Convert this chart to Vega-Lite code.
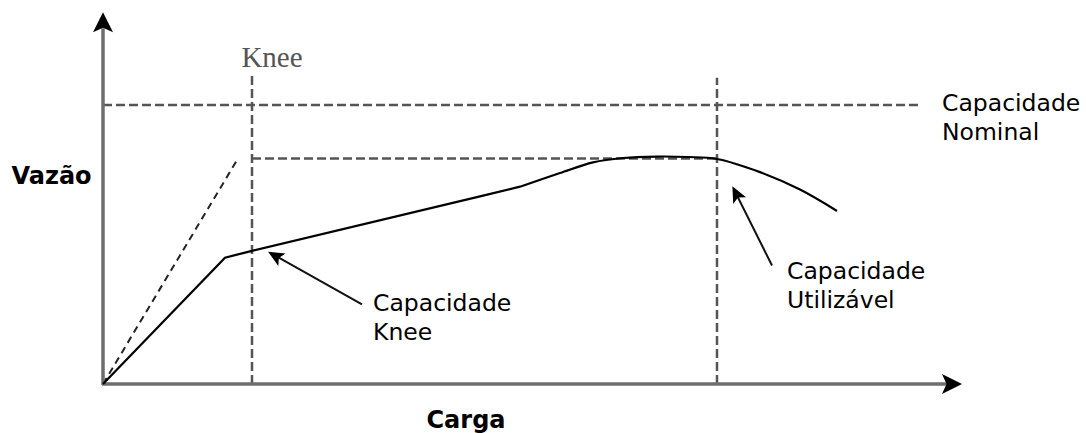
{
  "$schema": "https://vega.github.io/schema/vega-lite/v6.json",
  "width": 1086,
  "height": 433,
  "autosize": {"type": "fit", "contains": "padding"},
  "padding": 0,
  "background": "white",
  "config": {"view": {"stroke": null}},
  "datasets": {
    "curve": [
      {"carga": 0, "vazao": 0, "seg": "linear"},
      {"carga": 122, "vazao": 130, "seg": "linear"},
      {"carga": 149, "vazao": 137, "seg": "linear"},
      {"carga": 377, "vazao": 193, "seg": "linear"},
      {"carga": 417, "vazao": 203, "seg": "linear"},
      {"carga": 417, "vazao": 203, "seg": "smooth"},
      {"carga": 457, "vazao": 217, "seg": "smooth"},
      {"carga": 490, "vazao": 228, "seg": "smooth"},
      {"carga": 520, "vazao": 232.5, "seg": "smooth"},
      {"carga": 554, "vazao": 234, "seg": "smooth"},
      {"carga": 585, "vazao": 233.5, "seg": "smooth"},
      {"carga": 614, "vazao": 231.5, "seg": "smooth"},
      {"carga": 657, "vazao": 218, "seg": "smooth"},
      {"carga": 697, "vazao": 200, "seg": "smooth"},
      {"carga": 734, "vazao": 178, "seg": "smooth"}
    ],
    "lines": [
      {"name": "eixoY", "x": 0, "y": -1, "x2": 0, "y2": 366},
      {"name": "eixoX", "x": -1, "y": 0, "x2": 846, "y2": 0},
      {"name": "nominal", "x": 0, "y": 287, "x2": 819, "y2": 287},
      {"name": "utilizavelH", "x": 149, "y": 232, "x2": 614, "y2": 232},
      {"name": "kneeV", "x": 149, "y": 0, "x2": 149, "y2": 318},
      {"name": "utilizavelV", "x": 614, "y": 0, "x2": 614, "y2": 315},
      {"name": "diag", "x": 0, "y": 0, "x2": 135, "y2": 232},
      {"name": "setaKnee", "x": 259, "y": 82, "x2": 174, "y2": 131},
      {"name": "setaUtil", "x": 669, "y": 122, "x2": 634, "y2": 194}
    ],
    "heads": [
      {"name": "eixoX", "carga": 849, "vazao": 0},
      {"name": "eixoY", "carga": 0, "vazao": 372},
      {"name": "setaKnee", "carga": 172, "vazao": 132},
      {"name": "setaUtil", "carga": 633, "vazao": 196}
    ],
    "texts": [
      {"label": "Capacidade", "carga": 839, "vazao": 288, "kind": "normal"},
      {"label": "Nominal", "carga": 839, "vazao": 258, "kind": "normal"},
      {"label": "Capacidade", "carga": 270, "vazao": 82, "kind": "normal"},
      {"label": "Knee", "carga": 270, "vazao": 52, "kind": "normal"},
      {"label": "Capacidade", "carga": 684, "vazao": 115, "kind": "normal"},
      {"label": "Utilizável", "carga": 684, "vazao": 85, "kind": "normal"},
      {"label": "Vazão", "carga": -51.5, "vazao": 213, "kind": "bold"},
      {"label": "Carga", "carga": 363, "vazao": -38, "kind": "bold"},
      {"label": "Knee", "carga": 169, "vazao": 335, "kind": "serif"}
    ]
  },
  "encoding": {},
  "layer": [
    {
      "data": {"name": "lines"},
      "transform": [{"filter": "datum.name === 'nominal' || datum.name === 'utilizavelH' || datum.name === 'kneeV' || datum.name === 'utilizavelV'"}],
      "mark": {"type": "rule", "color": "#555555", "strokeWidth": 2.5, "strokeDash": [9, 4]},
      "encoding": {
        "x": {"field": "x", "type": "quantitative", "scale": {"domain": [-103, 983], "nice": false, "zero": false}, "axis": null},
        "y": {"field": "y", "type": "quantitative", "scale": {"domain": [-38, 395], "nice": false, "zero": false}, "axis": null},
        "x2": {"field": "x2"},
        "y2": {"field": "y2"}
      }
    },
    {
      "data": {"name": "lines"},
      "transform": [{"filter": "datum.name === 'diag'"}],
      "mark": {"type": "rule", "color": "#222222", "strokeWidth": 2, "strokeDash": [7, 5]},
      "encoding": {
        "x": {"field": "x", "type": "quantitative"},
        "y": {"field": "y", "type": "quantitative"},
        "x2": {"field": "x2"},
        "y2": {"field": "y2"}
      }
    },
    {
      "data": {"name": "lines"},
      "transform": [{"filter": "datum.name === 'eixoX' || datum.name === 'eixoY'"}],
      "mark": {"type": "rule", "color": "#6e6e6e", "strokeWidth": 3.5},
      "encoding": {
        "x": {"field": "x", "type": "quantitative"},
        "y": {"field": "y", "type": "quantitative"},
        "x2": {"field": "x2"},
        "y2": {"field": "y2"}
      }
    },
    {
      "data": {"name": "lines"},
      "transform": [{"filter": "datum.name === 'setaKnee' || datum.name === 'setaUtil'"}],
      "mark": {"type": "rule", "color": "#111111", "strokeWidth": 2},
      "encoding": {
        "x": {"field": "x", "type": "quantitative"},
        "y": {"field": "y", "type": "quantitative"},
        "x2": {"field": "x2"},
        "y2": {"field": "y2"}
      }
    },
    {
      "data": {"name": "curve"},
      "transform": [{"filter": "datum.seg === 'linear'"}],
      "mark": {"type": "line", "color": "#000000", "strokeWidth": 2.2, "interpolate": "linear"},
      "encoding": {
        "x": {"field": "carga", "type": "quantitative"},
        "y": {"field": "vazao", "type": "quantitative"},
        "order": {"field": "carga", "type": "quantitative"}
      }
    },
    {
      "data": {"name": "curve"},
      "transform": [{"filter": "datum.seg === 'smooth'"}],
      "mark": {"type": "line", "color": "#000000", "strokeWidth": 2.2, "interpolate": "catmull-rom"},
      "encoding": {
        "x": {"field": "carga", "type": "quantitative"},
        "y": {"field": "vazao", "type": "quantitative"},
        "order": {"field": "carga", "type": "quantitative"}
      }
    },
    {
      "data": {"name": "heads"},
      "transform": [{"filter": "datum.name === 'eixoX'"}],
      "mark": {"type": "point", "shape": "M1,0L-1,-1L-0.55,0L-1,1Z", "filled": true, "color": "#000000", "opacity": 1, "size": 400, "angle": 0},
      "encoding": {
        "x": {"field": "carga", "type": "quantitative"},
        "y": {"field": "vazao", "type": "quantitative"}
      }
    },
    {
      "data": {"name": "heads"},
      "transform": [{"filter": "datum.name === 'eixoY'"}],
      "mark": {"type": "point", "shape": "M1,0L-1,-1L-0.55,0L-1,1Z", "filled": true, "color": "#000000", "opacity": 1, "size": 400, "angle": 270},
      "encoding": {
        "x": {"field": "carga", "type": "quantitative"},
        "y": {"field": "vazao", "type": "quantitative"}
      }
    },
    {
      "data": {"name": "heads"},
      "transform": [{"filter": "datum.name === 'setaKnee'"}],
      "mark": {"type": "point", "shape": "M1,0L-1,-0.9L-0.55,0L-1,0.9Z", "filled": true, "color": "#000000", "opacity": 1, "size": 256, "angle": 210},
      "encoding": {
        "x": {"field": "carga", "type": "quantitative"},
        "y": {"field": "vazao", "type": "quantitative"}
      }
    },
    {
      "data": {"name": "heads"},
      "transform": [{"filter": "datum.name === 'setaUtil'"}],
      "mark": {"type": "point", "shape": "M1,0L-1,-0.9L-0.55,0L-1,0.9Z", "filled": true, "color": "#000000", "opacity": 1, "size": 256, "angle": 243},
      "encoding": {
        "x": {"field": "carga", "type": "quantitative"},
        "y": {"field": "vazao", "type": "quantitative"}
      }
    },
    {
      "data": {"name": "texts"},
      "transform": [{"filter": "datum.kind === 'normal'"}],
      "mark": {"type": "text", "font": "DejaVu Sans", "fontSize": 23.5, "color": "#000000", "align": "left", "baseline": "middle"},
      "encoding": {
        "x": {"field": "carga", "type": "quantitative"},
        "y": {"field": "vazao", "type": "quantitative"},
        "text": {"field": "label"}
      }
    },
    {
      "data": {"name": "texts"},
      "transform": [{"filter": "datum.kind === 'bold'"}],
      "mark": {"type": "text", "font": "DejaVu Sans", "fontWeight": "bold", "fontSize": 24, "color": "#000000", "align": "center", "baseline": "middle"},
      "encoding": {
        "x": {"field": "carga", "type": "quantitative"},
        "y": {"field": "vazao", "type": "quantitative"},
        "text": {"field": "label"}
      }
    },
    {
      "data": {"name": "texts"},
      "transform": [{"filter": "datum.kind === 'serif'"}],
      "mark": {"type": "text", "font": "Liberation Serif", "fontSize": 29, "color": "#555555", "align": "center", "baseline": "middle"},
      "encoding": {
        "x": {"field": "carga", "type": "quantitative"},
        "y": {"field": "vazao", "type": "quantitative"},
        "text": {"field": "label"}
      }
    }
  ]
}
